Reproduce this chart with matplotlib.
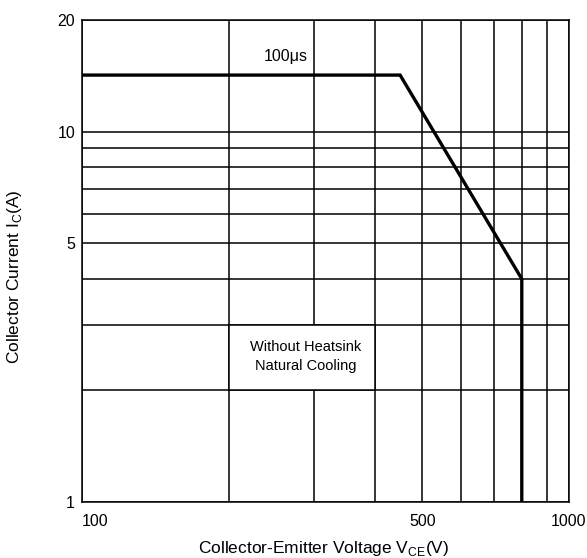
import matplotlib
matplotlib.use("Agg")
import matplotlib.pyplot as plt
from matplotlib.patches import Rectangle

plt.rcParams['font.family'] = ['Liberation Sans', 'DejaVu Sans']

# safe operating area boundary (VCE in V, IC in A)
vce = [100, 450, 800, 800]
ic = [14.2, 14.2, 4.0, 1.0]

# axis ticks and labels
x_major = [100, 500, 1000]
x_major_labels = ['100', '500', '1000']
x_minor = [200, 300, 400, 600, 700, 800, 900]
y_major = [1, 5, 10, 20]
y_major_labels = ['1', '5', '10', '20']
y_minor = [2, 3, 4, 6, 7, 8, 9]

# annotation box (lower-left and upper-right corners in data units)
box_x = [200, 400]
box_y = [2, 3]


def main():
    fig = plt.figure(figsize=(5.87, 5.58), dpi=100)
    ax = fig.add_axes([0.1397, 0.1004, 0.8296, 0.8638])

    ax.set_xscale('log')
    ax.set_yscale('log')
    ax.set_xlim(100, 1000)
    ax.set_ylim(1, 20)

    ax.set_xticks(x_major)
    ax.set_xticklabels(x_major_labels)
    ax.set_xticks(x_minor, minor=True)
    ax.set_xticklabels([], minor=True)
    ax.set_yticks(y_major)
    ax.set_yticklabels(y_major_labels)
    ax.set_yticks(y_minor, minor=True)
    ax.set_yticklabels([], minor=True)

    ax.tick_params(which='both', length=0, labelsize=11.5, colors='black')
    ax.tick_params(axis='x', pad=9)
    ax.tick_params(axis='y', pad=5)
    ax.get_xticklabels()[0].set_ha('left')

    ax.grid(which='both', color='black', linewidth=1.1)
    ax.set_axisbelow(True)
    for s in ax.spines.values():
        s.set_linewidth(1.1)

    # bold SOA line
    ax.plot(vce, ic, color='black', linewidth=2.4, zorder=5,
            solid_joinstyle='miter')

    # white box covering the grid
    ax.add_patch(Rectangle((box_x[0], box_y[0]), box_x[1] - box_x[0],
                           box_y[1] - box_y[0], facecolor='white',
                           edgecolor='black', linewidth=1.1, zorder=3))
    ax.text(288, 2.47, 'Without Heatsink\nNatural Cooling', ha='center',
            va='center', fontsize=10.5, linespacing=1.4, zorder=4)

    ax.text(262, 15.9, '100\u03bcs', ha='center', va='center', fontsize=11.5,
            zorder=4, bbox=dict(facecolor='white', edgecolor='none', pad=2))

    ax.set_xlabel(r'Collector-Emitter Voltage V$_\mathregular{CE}$(V)',
                  fontsize=12.5)
    ax.xaxis.set_label_coords(0.497, -0.0975)
    ax.xaxis.label.set_va('center')
    ax.set_ylabel(r'Collector Current I$_\mathregular{C}$(A)', fontsize=12.5)
    ax.yaxis.set_label_coords(-0.1376, 0.467)
    ax.yaxis.label.set_va('center')

    fig.savefig('out.png', dpi=100)


if __name__ == "__main__":
    main()
